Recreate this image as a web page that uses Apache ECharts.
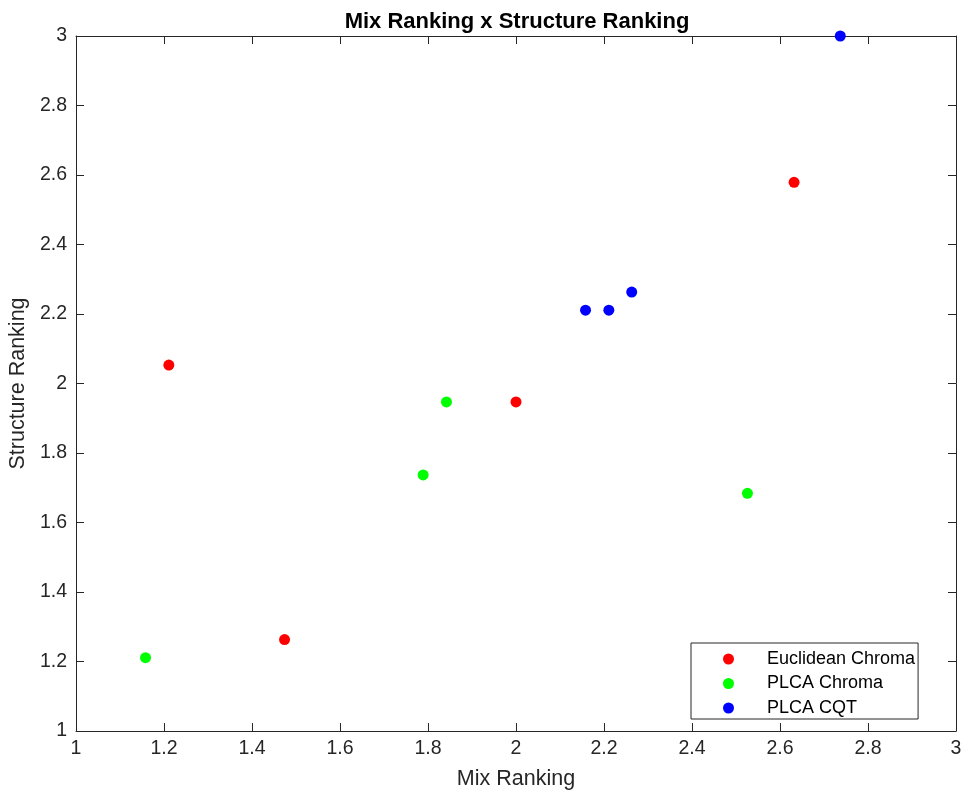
<!DOCTYPE html>
<html>
<head>
<meta charset="utf-8">
<script src="https://cdn.jsdelivr.net/npm/echarts@6/dist/echarts.min.js"></script>
<style>html,body{margin:0;padding:0;background:#fff}#c{width:963px;height:792px}</style>
</head>
<body>
<div id="c"></div>
<script>
const seriesNames = ['Euclidean Chroma', 'PLCA Chroma', 'PLCA CQT'];
const euclideanMix = [1.211, 1.474, 2.000, 2.632];
const euclideanStructure = [2.053, 1.263, 1.947, 2.579];
const plcaChromaMix = [1.158, 1.789, 1.842, 2.526];
const plcaChromaStructure = [1.211, 1.737, 1.947, 1.684];
const plcaCqtMix = [2.158, 2.211, 2.263, 2.737];
const plcaCqtStructure = [2.211, 2.211, 2.263, 3.000];
const tickLabels = ['1', '1.2', '1.4', '1.6', '1.8', '2', '2.2', '2.4', '2.6', '2.8', '3'];
const colors = ['#ff0000', '#00ff00', '#0000ff'];

const pairs = (xs, ys) => xs.map((x, i) => [x, ys[i]]);
const data = [
  pairs(euclideanMix, euclideanStructure),
  pairs(plcaChromaMix, plcaChromaStructure),
  pairs(plcaCqtMix, plcaCqtStructure)
];

const font = 'Liberation Sans, Arial, Helvetica, sans-serif';
const axisCol = '#262626';
const fmt = v => { const i = Math.round((v - 1) / 0.2); return tickLabels[i] !== undefined ? tickLabels[i] : String(v); };

function axis(pos, show, name, isY) {
  return {
    type: 'value', position: pos, min: 1, max: 3, interval: 0.2,
    name: show ? name : '', nameLocation: 'middle',
    nameGap: isY ? 39 : 37,
    nameTextStyle: { fontFamily: font, fontSize: 21.5, color: axisCol },
    axisLine: { show: true, onZero: false, lineStyle: { color: axisCol, width: 1 } },
    axisTick: { show: true, inside: true, length: 8, lineStyle: { color: axisCol } },
    axisLabel: { show: show, fontFamily: font, fontSize: 19.5, color: axisCol, margin: isY ? 9 : 8, formatter: fmt },
    splitLine: { show: false }
  };
}

const chart = echarts.init(document.getElementById('c'), null, { renderer: 'canvas' });
chart.setOption({
  animation: false,
  backgroundColor: '#ffffff',
  title: {
    text: 'Mix Ranking x Structure Ranking',
    left: 512, top: 6, textAlign: 'center',
    textStyle: { fontFamily: font, fontSize: 22, fontWeight: 'bold', color: '#000' }
  },
  grid: { left: 76, right: 7, top: 36, bottom: 61, containLabel: false, outerBoundsMode: 'none' },
  xAxis: [axis('bottom', true, 'Mix Ranking', false), axis('top', false, '', false)],
  yAxis: [axis('left', true, 'Structure Ranking', true), axis('right', false, '', true)],
  legend: {
    orient: 'vertical', left: 691, top: 643,
    data: seriesNames,
    icon: 'circle', itemWidth: 11, itemHeight: 11, itemGap: 6.5,
    padding: [7, 3, 2, 32],
    borderColor: '#262626', borderWidth: 1, backgroundColor: '#fff',
    textStyle: { fontFamily: font, fontSize: 18, color: '#000', padding: [0, 0, 0, 28] }
  },
  series: seriesNames.map((n, i) => ({
    name: n, type: 'scatter', data: data[i], symbol: 'circle', symbolSize: 11,
    itemStyle: { color: colors[i], opacity: 1 }, xAxisIndex: 0, yAxisIndex: 0
  }))
});
</script>
</body>
</html>
